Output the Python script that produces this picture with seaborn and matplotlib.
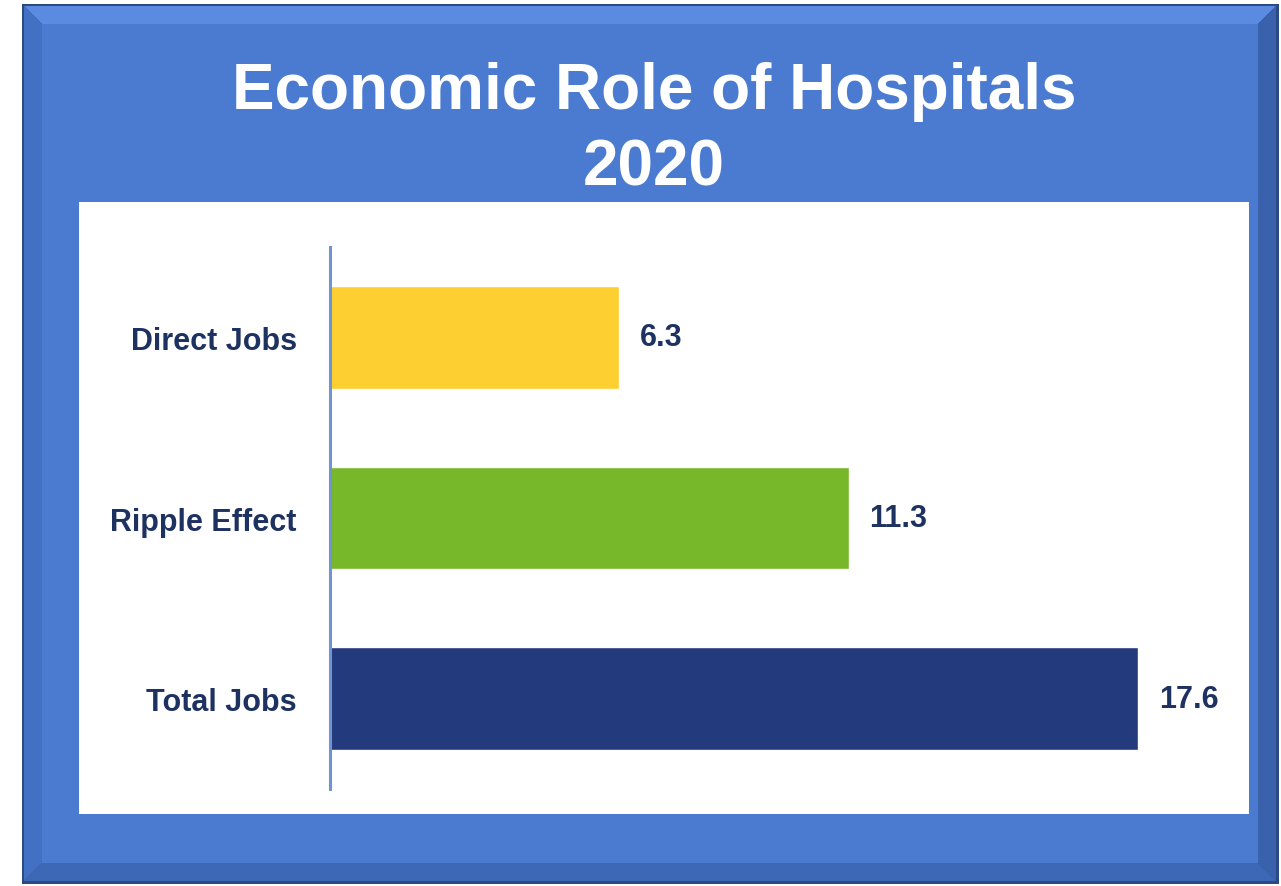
import matplotlib
matplotlib.use("Agg")
import matplotlib.pyplot as plt
from matplotlib.patches import Rectangle, Polygon
import seaborn as sns
import pandas as pd

# Chart data
categories = ["Direct Jobs", "Ripple Effect", "Total Jobs"]
values = [6.3, 11.3, 17.6]
bar_colors = ["#FDCF30", "#76B82A", "#233A7C"]
title_lines = ["Economic Role of Hospitals", "2020"]

W, H = 1281, 887
sns.set_theme(style="white")
plt.rcParams["font.family"] = ["Liberation Sans", "DejaVu Sans"]

fig = plt.figure(figsize=(W / 100, H / 100), dpi=100)
fig.patch.set_facecolor("white")

# Background layer in pixel coordinates for the framed panel
bg = fig.add_axes([0, 0, 1, 1], zorder=0)
bg.set_xlim(0, W)
bg.set_ylim(H, 0)
bg.axis("off")

x0, y0, x1, y1 = 22, 5, 1279, 885
b = 18
frame_blue = "#4A7BD0"
bg.add_patch(Rectangle((x0, y0), x1 - x0, y1 - y0, facecolor="#2C4A82", edgecolor="none"))
ox0, oy0, ox1, oy1 = x0 + 2, y0 + 2, x1 - 3, y1 - 3
ix0, iy0, ix1, iy1 = ox0 + b, oy0 + b, ox1 - b, oy1 - b
bg.add_patch(Polygon([(ox0, oy0), (ox1, oy0), (ix1, iy0), (ix0, iy0)], facecolor="#5A8BE0", edgecolor="none"))
bg.add_patch(Polygon([(ox0, oy0), (ix0, iy0), (ix0, iy1), (ox0, oy1)], facecolor="#4270C2", edgecolor="none"))
bg.add_patch(Polygon([(ox0, oy1), (ix0, iy1), (ix1, iy1), (ox1, oy1)], facecolor="#3D68B6", edgecolor="none"))
bg.add_patch(Polygon([(ox1, oy0), (ox1, oy1), (ix1, iy1), (ix1, iy0)], facecolor="#3A62AC", edgecolor="none"))
bg.add_patch(Rectangle((ix0, iy0), ix1 - ix0, iy1 - iy0, facecolor=frame_blue, edgecolor="none"))

# White chart panel
bg.add_patch(Rectangle((79, 203), 1249 - 79, 815 - 203, facecolor="white", edgecolor="none"))

# Title
bg.text(654, 92, title_lines[0], color="white", fontsize=46, fontweight="bold",
        ha="center", va="center")
bg.text(654, 168, title_lines[1], color="white", fontsize=46, fontweight="bold",
        ha="center", va="center")

# Bar chart
left_px, right_px, top_px, bottom_px = 330, 1248, 248, 790
ax = fig.add_axes([left_px / W, 1 - bottom_px / H, (right_px - left_px) / W, (bottom_px - top_px) / H], zorder=1)
ax.patch.set_alpha(0)

df = pd.DataFrame({"category": categories, "jobs": values})
sns.barplot(data=df, x="jobs", y="category", hue="category", palette=bar_colors,
            legend=False, width=0.57, orient="h", ax=ax, saturation=1)

text_navy = "#1E3262"
ax.set_xlim(0, 20)
ax.set_ylim(2.5, -0.5)
ax.set_xlabel("")
ax.set_ylabel("")
ax.set_xticks([])
for side in ["top", "right", "bottom"]:
    ax.spines[side].set_visible(False)
ax.spines["left"].set_color("#6F93D3")
ax.spines["left"].set_linewidth(2.2)
ax.tick_params(axis="y", length=0, pad=24, labelsize=22, labelcolor=text_navy)
for lbl in ax.get_yticklabels():
    lbl.set_fontweight("bold")

for i, v in enumerate(values):
    ax.annotate(f"{v}", xy=(v, i), xytext=(15, 0), textcoords="offset points",
                ha="left", va="center", fontsize=22, fontweight="bold", color=text_navy)

fig.savefig("out.png", dpi=100, facecolor=fig.get_facecolor())
